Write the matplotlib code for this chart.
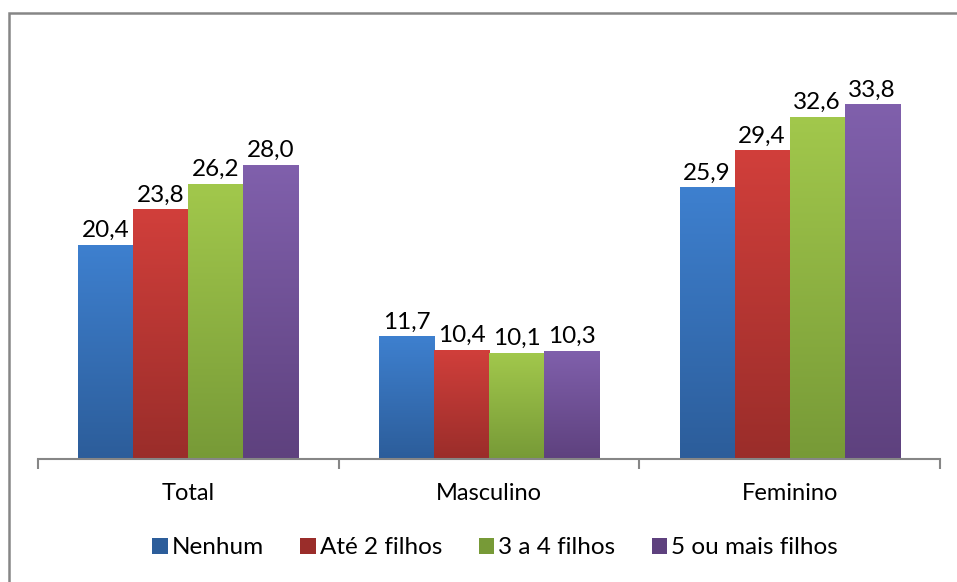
import numpy as np
import matplotlib.pyplot as plt
from matplotlib.colors import LinearSegmentedColormap
from matplotlib.patches import Rectangle

categories = ['Total', 'Masculino', 'Feminino']
series_names = ['Nenhum', 'Até 2 filhos', '3 a 4 filhos', '5 ou mais filhos']
values = [
    [20.4, 11.7, 25.9],
    [23.8, 10.4, 29.4],
    [26.2, 10.1, 32.6],
    [28.0, 10.3, 33.8],
]
top_colors = ['#3e80cf', '#d13f3b', '#a2c84c', '#8060ac']
bottom_colors = ['#2c5d9a', '#9a2d2a', '#779a37', '#5e417e']

plt.rcParams['font.family'] = ['Lato', 'DejaVu Sans']

fig = plt.figure(figsize=(9.57, 5.82), dpi=100)
ax = fig.add_axes([38 / 957, 1 - 459 / 582, 902 / 957, 420 / 582])

n = len(series_names)
width = 0.183
x = np.arange(len(categories))
grad = np.linspace(0, 1, 256).reshape(-1, 1)

for i in range(n):
    pos = x + (i - (n - 1) / 2) * width
    bars = ax.bar(pos, values[i], width, color=bottom_colors[i], label=series_names[i],
                  linewidth=0)
    cmap = LinearSegmentedColormap.from_list('g%d' % i, [bottom_colors[i], top_colors[i]])
    for b, v in zip(bars, values[i]):
        x0 = b.get_x()
        im = ax.imshow(grad, cmap=cmap, aspect='auto', origin='lower',
                       extent=[x0, x0 + width, 0, v], zorder=2)
        im.set_clip_path(b)
        ax.text(x0 + width / 2, v + 0.35, format(v, '.1f').replace('.', ','),
                ha='center', va='bottom', fontsize=17.5, color='black', zorder=3)

ax.set_xlim(-0.5, len(categories) - 0.5)
ax.set_ylim(0, 40)
ax.set_xticks(x)
ax.set_xticklabels(categories, fontsize=17)
ax.set_xticks(np.arange(len(categories) + 1) - 0.5, minor=True)
ax.tick_params(axis='x', which='major', length=0, pad=17)
ax.tick_params(axis='x', which='minor', length=7, width=1.5, color='#868686')
ax.set_yticks([])
for s in ['top', 'right', 'left']:
    ax.spines[s].set_visible(False)
ax.spines['bottom'].set_color('#868686')
ax.spines['bottom'].set_linewidth(1.5)

leg = fig.legend(loc='center', bbox_to_anchor=(495 / 957, 1 - 548 / 582), ncol=4,
                 frameon=False, fontsize=17.5, handlelength=0.65, handleheight=0.65,
                 handletextpad=0.15, columnspacing=1.5)

# outer chart border (only top and left visible)
fig.add_artist(Rectangle((9 / 957, -0.1), 1.2, 1 - 13 / 582 + 0.1, transform=fig.transFigure,
                         fill=False, edgecolor='#868686', linewidth=1.8))

fig.savefig('out.png', dpi=100)
